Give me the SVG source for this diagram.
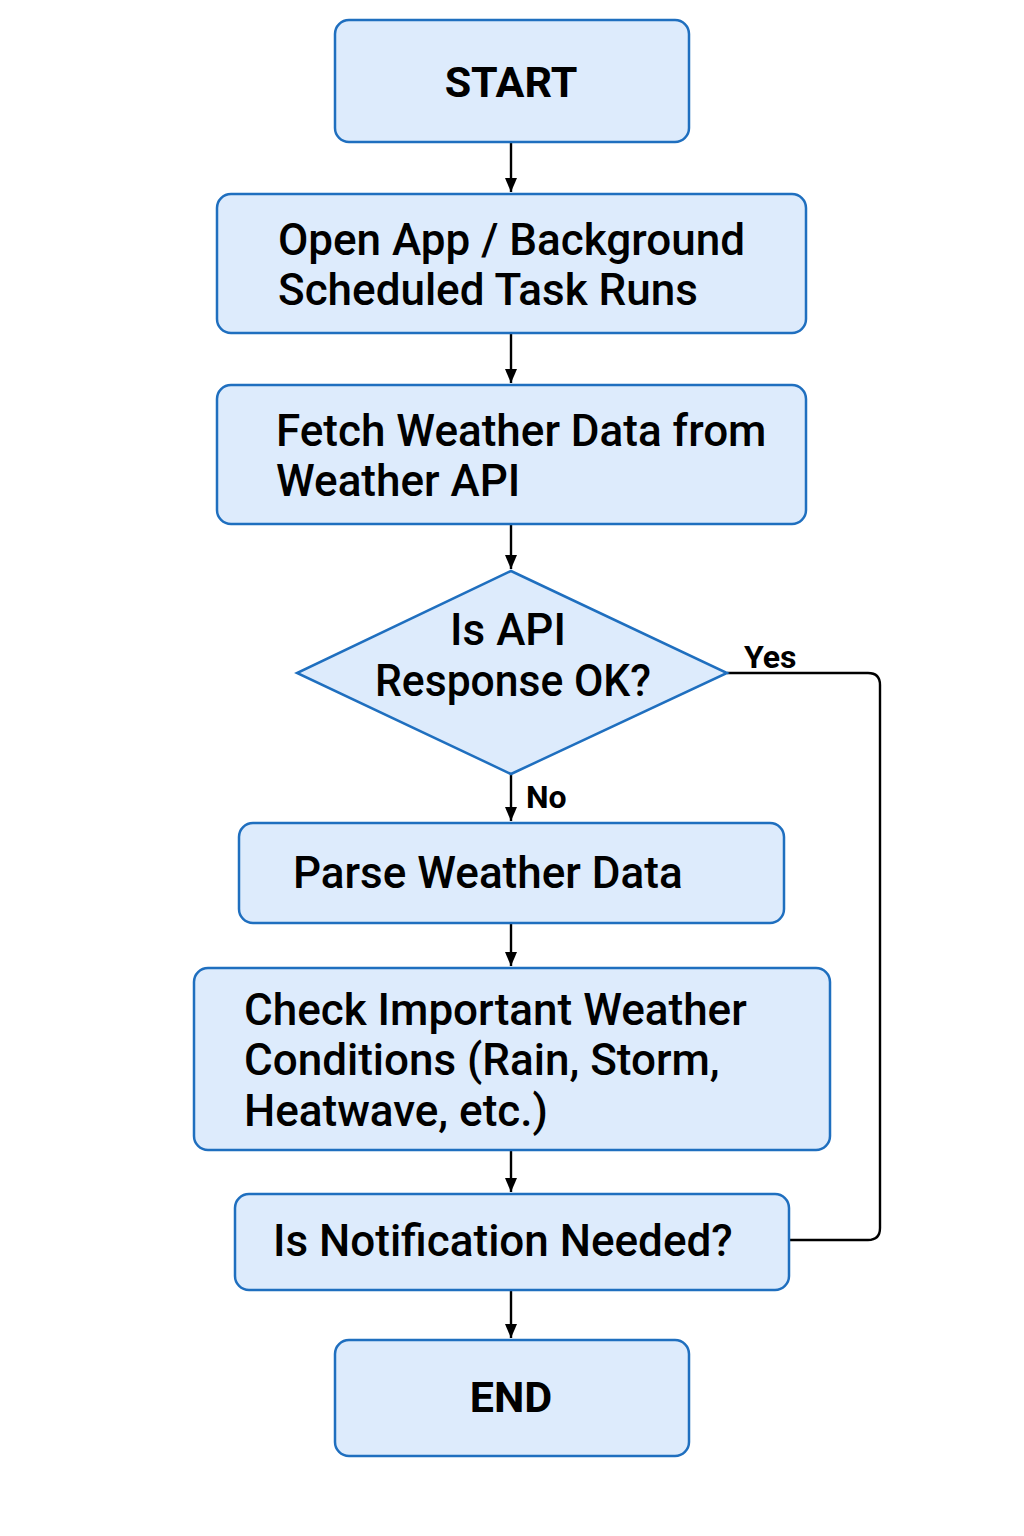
<svg xmlns="http://www.w3.org/2000/svg" width="1024" height="1536" viewBox="0 0 1024 1536">
<defs>
<style>
.box{fill:#ddebfc;stroke:#1f6fbf;stroke-width:2.5}
.t{font-family:Roboto,"Liberation Sans",sans-serif;font-weight:500;font-size:44px;fill:#000}
.c{text-anchor:middle}
.b{font-weight:700;font-size:43px}
.lbl{font-family:Roboto,"Liberation Sans",sans-serif;font-weight:700;font-size:32px;fill:#000}
.ln{fill:none;stroke:#000;stroke-width:2.4}
</style>
<marker id="ah" viewBox="0 0 14 12" refX="14" refY="6" markerWidth="14" markerHeight="12" markerUnits="userSpaceOnUse" orient="auto">
<path d="M0,0 L14,6 L0,12 z" fill="#000"/>
</marker>
</defs>
<rect width="1024" height="1536" fill="#fff"/>
<g id="connectors">
<path class="ln" d="M511 142 V192" marker-end="url(#ah)"/>
<path class="ln" d="M511 333 V383" marker-end="url(#ah)"/>
<path class="ln" d="M511 524 V569" marker-end="url(#ah)"/>
<path class="ln" d="M511 774 V821" marker-end="url(#ah)"/>
<path class="ln" d="M511 923 V966" marker-end="url(#ah)"/>
<path class="ln" d="M511 1150 V1192" marker-end="url(#ah)"/>
<path class="ln" d="M511 1290 V1338" marker-end="url(#ah)"/>
<path class="ln" d="M727 673 H868 Q880 673 880 685 V1228 Q880 1240 868 1240 H789"/>
<text class="lbl" x="744" y="668">Yes</text>
<text class="lbl" x="526" y="808">No</text>
</g>
<g id="start"><rect class="box" x="335" y="20" width="354" height="122" rx="14"/><text class="t c b" x="511" y="97">START</text></g>
<g id="open"><rect class="box" x="217" y="194" width="589" height="139" rx="14"/><text class="t" x="278" y="255">Open App / Background</text><text class="t" x="278" y="305">Scheduled Task Runs</text></g>
<g id="fetch"><rect class="box" x="217" y="385" width="589" height="139" rx="14"/><text class="t" x="276" y="446">Fetch Weather Data from</text><text class="t" x="276" y="496">Weather API</text></g>
<g id="decision"><polygon class="box" points="511,571 727,673 511,774 297,673"/><text class="t c" x="508" y="645">Is API</text><text class="t c" x="513" y="696" textLength="276" lengthAdjust="spacingAndGlyphs">Response OK?</text></g>
<g id="parse"><rect class="box" x="239" y="823" width="545" height="100" rx="14"/><text class="t" x="293" y="888">Parse Weather Data</text></g>
<g id="check"><rect class="box" x="194" y="968" width="636" height="182" rx="14"/><text class="t" x="244" y="1025">Check Important Weather</text><text class="t" x="244" y="1075">Conditions (Rain, Storm,</text><text class="t" x="244" y="1126">Heatwave, etc.)</text></g>
<g id="notify"><rect class="box" x="235" y="1194" width="554" height="96" rx="14"/><text class="t" x="273" y="1256">Is Notification Needed?</text></g>
<g id="end"><rect class="box" x="335" y="1340" width="354" height="116" rx="14"/><text class="t c b" x="511" y="1412">END</text></g>
</svg>
